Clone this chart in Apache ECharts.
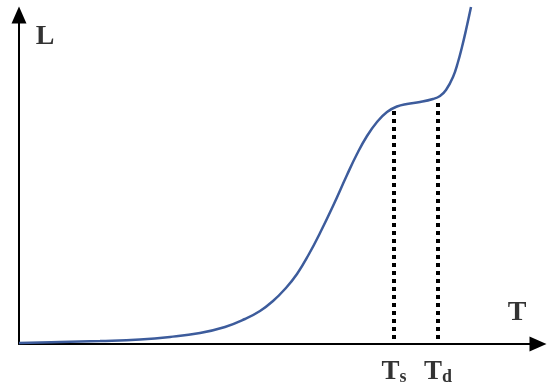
<!DOCTYPE html>
<html>
<head>
<meta charset="utf-8">
<script src="https://cdn.jsdelivr.net/npm/echarts@6/dist/echarts.min.js"></script>
<style>
  html, body { margin: 0; padding: 0; background: #fff; }
  #container { width: 550px; height: 392px; }
</style>
</head>
<body>
<div id="container"></div>
<script>
// curve (T, L) in plot units
let curveT = [0, 41, 81, 121, 151, 181, 206, 226, 241, 254, 266, 278, 290, 301, 314, 328, 338, 348, 358, 368, 378, 388, 401, 414, 421, 427, 434, 439, 443, 447, 452];
let curveL = [1, 2, 3, 4.5, 7, 11, 17, 25, 33, 43, 55, 70, 90, 111, 138, 169, 190, 208, 222, 232, 237.5, 240, 242, 245, 248, 254, 267, 282, 297, 314, 337];
// the two marked temperatures
let markNames = ["s", "d"];
let markT = [375, 419];
let markL = [233, 241];
// axis titles: [T, L, text]
let axisTitles = [[26, 307, "L"], [498, 31, "T"]];

let curveData = curveT.map(function (t, i) { return [t, curveL[i]]; });

let dom = document.getElementById("container");
let myChart = echarts.init(dom, null, { renderer: "canvas" });

let dotSeries = markT.map(function (t, i) {
  return {
    type: "line",
    data: [[t, markL[i]], [t, 0]],
    symbol: "none",
    z: 1,
    lineStyle: { color: "#000", width: 4, type: [4, 4], cap: "butt" },
  };
});

let serif = "Liberation Serif";

let markLabels = {
  type: "scatter",
  symbolSize: 0,
  z: 5,
  data: markT.map(function (t, i) { return { value: [t, 0], sub: markNames[i] }; }),
  label: {
    show: true,
    position: "bottom",
    distance: 15,
    formatter: function (p) { return "{t|T}{s|" + p.data.sub + "}"; },
    rich: {
      t: { fontFamily: serif, fontWeight: "bold", fontSize: 27, lineHeight: 27, color: "#000" },
      s: { fontFamily: serif, fontWeight: "bold", fontSize: 18, lineHeight: 27, color: "#000", padding: [10, 0, 0, 0] },
    },
  },
};

let titleLabels = {
  type: "scatter",
  symbolSize: 0,
  z: 5,
  data: axisTitles.map(function (a) { return { value: [a[0], a[1]], name: a[2] }; }),
  label: {
    show: true,
    position: "inside",
    formatter: "{b}",
    fontFamily: serif,
    fontWeight: "bold",
    fontSize: 28,
    color: "#000",
  },
};

let axisStyle = {
  show: true,
  symbol: ["none", "triangle"],
  symbolSize: [15, 17],
  lineStyle: { color: "#000", width: 2 },
};

let option = {
  animation: false,
  grid: { left: 19, right: 12, top: 15, bottom: 48 },
  xAxis: {
    type: "value",
    min: 0,
    max: 519,
    axisLine: axisStyle,
    axisTick: { show: false },
    axisLabel: { show: false },
    splitLine: { show: false },
  },
  yAxis: {
    type: "value",
    min: 0,
    max: 329,
    axisLine: axisStyle,
    axisTick: { show: false },
    axisLabel: { show: false },
    splitLine: { show: false },
  },
  series: [
    {
      type: "line",
      data: curveData,
      smooth: 0.45,
      symbol: "none",
      z: 3,
      clip: false,
      lineStyle: { color: "#3d5c9c", width: 2.5 },
    },
  ].concat(dotSeries, [markLabels, titleLabels]),
};

myChart.setOption(option);
window.addEventListener("resize", myChart.resize);
</script>
</body>
</html>
